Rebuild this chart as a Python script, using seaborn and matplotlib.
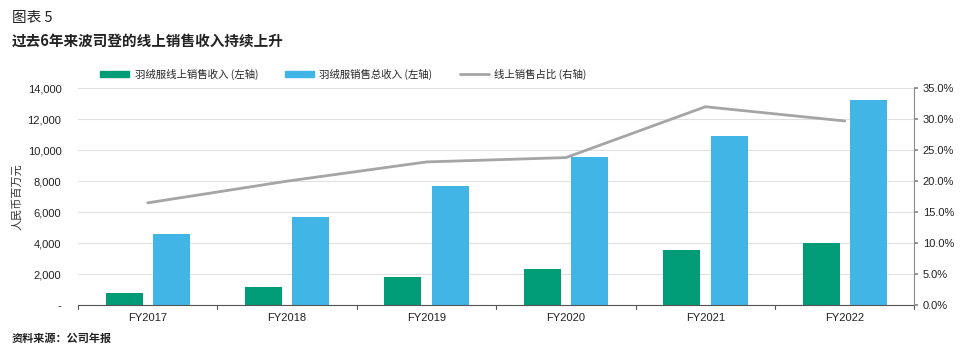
import numpy as np
import pandas as pd
import seaborn as sns
import matplotlib.pyplot as plt
from matplotlib.ticker import FuncFormatter, PercentFormatter
from matplotlib.lines import Line2D
from matplotlib.patches import Patch

years = ['FY2017', 'FY2018', 'FY2019', 'FY2020', 'FY2021', 'FY2022']
online_rev = [780, 1160, 1800, 2320, 3550, 4000]
total_rev = [4580, 5680, 7680, 9550, 10900, 13230]
online_share = [16.5, 20.0, 23.1, 23.8, 32.0, 29.7]

green = '#009B77'
blue = '#41B6E6'
grey = '#A5A5A5'

sns.set_theme(style='white')
plt.rcParams['font.family'] = ['Noto Sans CJK SC', 'DejaVu Sans']
numfont = ['Liberation Sans', 'DejaVu Sans']

df = pd.DataFrame({
    'year': years * 2,
    'value': online_rev + total_rev,
    'series': ['羽绒服线上销售收入 (左轴)'] * 6 + ['羽绒服销售总收入 (左轴)'] * 6,
})

fig = plt.figure(figsize=(9.67, 3.54), dpi=100)
ax = fig.add_axes([0.0807, 0.138, 0.865, 0.613])

sns.barplot(data=df, x='year', y='value', hue='series', palette=[green, blue],
            width=0.68, gap=0.22, ax=ax, legend=False, saturation=1, linewidth=0)

ax.set_ylim(0, 14000)
ax.set_xlim(-0.5, 5.5)
ax.set_yticks(np.arange(0, 14001, 2000))
ax.yaxis.set_major_formatter(FuncFormatter(lambda v, p: '-' if v == 0 else f'{int(v):,}'))
ax.set_xlabel('')
ax.set_ylabel('人民币百万元', fontsize=8, color='#333333', labelpad=4)
ax.grid(axis='y', color='#E0E0E0', linewidth=0.8)
ax.set_axisbelow(True)
for s in ['top', 'left', 'right']:
    ax.spines[s].set_visible(False)
ax.spines['bottom'].set_color('#555555')
ax.spines['bottom'].set_linewidth(0.8)
ax.tick_params(axis='y', length=0, labelsize=8, colors='#222222', pad=12)
ax.set_xticks(range(6))
ax.set_xticklabels(years)
ax.tick_params(axis='x', length=0, labelsize=8, colors='#222222', pad=6)
for lab in ax.get_yticklabels() + ax.get_xticklabels():
    lab.set_family(numfont)
for b in np.arange(-0.5, 6.0, 1.0):
    ax.plot([b, b], [0, -0.017], transform=ax.get_xaxis_transform(),
            color='#555555', linewidth=0.8, clip_on=False)

ax2 = ax.twinx()
sns.lineplot(x=list(range(6)), y=online_share, color=grey, linewidth=2, ax=ax2)
ax2.set_ylim(0, 35)
ax2.set_yticks(np.arange(0, 35.1, 5))
ax2.yaxis.set_major_formatter(PercentFormatter(decimals=1))
for s in ['top', 'left', 'bottom']:
    ax2.spines[s].set_visible(False)
ax2.spines['right'].set_color('#888888')
ax2.spines['right'].set_linewidth(0.8)
ax2.tick_params(axis='y', direction='out', length=3, color='#888888',
                labelsize=8, labelcolor='#222222', pad=3)
for lab in ax2.get_yticklabels():
    lab.set_family(numfont)

handles = [Patch(color=green), Patch(color=blue), Line2D([], [], color=grey, linewidth=2)]
labels = ['羽绒服线上销售收入 (左轴)', '羽绒服销售总收入 (左轴)', '线上销售占比 (右轴)']
fig.legend(handles, labels, loc='center', bbox_to_anchor=(0.355, 0.79), ncol=3,
           frameon=False, fontsize=7.5, handlelength=2.8, handleheight=0.6,
           columnspacing=2.6, handletextpad=0.5)

fig.text(0.012, 0.95, '图表 5', fontsize=10.5, color='#222222', va='center')
fig.text(0.012, 0.885, '过去6年来波司登的线上销售收入持续上升', fontsize=10.5,
         fontweight='bold', color='#222222', va='center')
fig.text(0.012, 0.045, '资料来源：公司年报', fontsize=8, fontweight='bold',
         color='#222222', va='center')

fig.savefig('out.png', dpi=100)
